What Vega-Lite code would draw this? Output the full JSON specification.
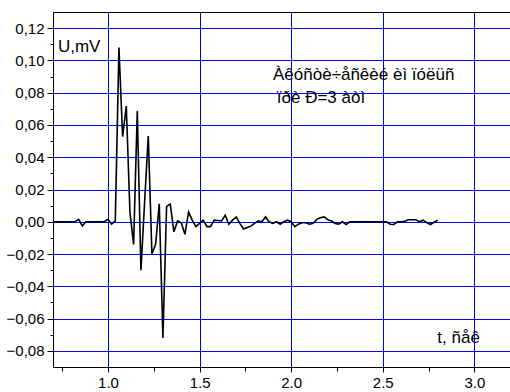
{
  "$schema": "https://vega.github.io/schema/vega-lite/v6.json",
  "width": 458,
  "height": 355,
  "autosize": {"type": "none"},
  "padding": {"left": 53, "top": 12, "right": 0, "bottom": 25},
  "background": "white",
  "config": {
    "view": {"stroke": "black", "strokeWidth": 1},
    "font": "Liberation Sans",
    "axis": {
      "domainColor": "black",
      "tickColor": "black",
      "labelColor": "black",
      "labelFont": "Liberation Sans",
      "title": null
    }
  },
  "datasets": {
    "signal": [
      {"t": 0.70, "u": 0}, {"t": 0.72, "u": 0}, {"t": 0.74, "u": 0}, {"t": 0.76, "u": 0},
      {"t": 0.78, "u": 0}, {"t": 0.80, "u": 0}, {"t": 0.82, "u": 0}, {"t": 0.84, "u": 0.0015},
      {"t": 0.86, "u": -0.0025}, {"t": 0.88, "u": 0}, {"t": 0.90, "u": 0}, {"t": 0.92, "u": 0},
      {"t": 0.94, "u": 0}, {"t": 0.96, "u": 0}, {"t": 0.98, "u": 0}, {"t": 1.00, "u": 0.0015},
      {"t": 1.02, "u": -0.0014}, {"t": 1.04, "u": 0.0006}, {"t": 1.06, "u": 0.108},
      {"t": 1.08, "u": 0.0527}, {"t": 1.10, "u": 0.0717}, {"t": 1.12, "u": 0.006},
      {"t": 1.14, "u": -0.014}, {"t": 1.16, "u": 0.0686}, {"t": 1.18, "u": -0.030},
      {"t": 1.20, "u": 0.012}, {"t": 1.22, "u": 0.0531}, {"t": 1.24, "u": -0.020},
      {"t": 1.26, "u": -0.014}, {"t": 1.28, "u": 0.0112}, {"t": 1.30, "u": -0.072},
      {"t": 1.32, "u": 0.0095}, {"t": 1.34, "u": 0.011}, {"t": 1.36, "u": -0.0062},
      {"t": 1.38, "u": 0.0005}, {"t": 1.40, "u": -0.0006}, {"t": 1.42, "u": -0.0078},
      {"t": 1.44, "u": 0.006}, {"t": 1.46, "u": 0.001}, {"t": 1.48, "u": -0.003},
      {"t": 1.50, "u": -0.001}, {"t": 1.52, "u": 0.001}, {"t": 1.54, "u": -0.003},
      {"t": 1.56, "u": -0.003}, {"t": 1.58, "u": 0.001}, {"t": 1.60, "u": 0.0008},
      {"t": 1.62, "u": 0.0005}, {"t": 1.64, "u": 0.004}, {"t": 1.66, "u": -0.0015},
      {"t": 1.68, "u": 0.001}, {"t": 1.70, "u": 0.003}, {"t": 1.72, "u": -0.001},
      {"t": 1.74, "u": -0.0045}, {"t": 1.76, "u": -0.0035}, {"t": 1.78, "u": -0.0027},
      {"t": 1.80, "u": -0.001}, {"t": 1.82, "u": 0.0006}, {"t": 1.84, "u": 0},
      {"t": 1.86, "u": 0.003}, {"t": 1.88, "u": 0}, {"t": 1.90, "u": -0.001},
      {"t": 1.92, "u": 0}, {"t": 1.94, "u": -0.0015}, {"t": 1.96, "u": 0},
      {"t": 1.98, "u": 0.001}, {"t": 2.00, "u": 0}, {"t": 2.02, "u": -0.003},
      {"t": 2.04, "u": -0.0015}, {"t": 2.06, "u": -0.0006}, {"t": 2.08, "u": -0.0006},
      {"t": 2.10, "u": -0.0015}, {"t": 2.12, "u": -0.001}, {"t": 2.14, "u": 0.0015},
      {"t": 2.16, "u": 0.0025}, {"t": 2.18, "u": 0.003}, {"t": 2.20, "u": 0.0013},
      {"t": 2.22, "u": 0.0005}, {"t": 2.24, "u": -0.001}, {"t": 2.26, "u": -0.0015},
      {"t": 2.28, "u": 0}, {"t": 2.30, "u": -0.0017}, {"t": 2.32, "u": 0},
      {"t": 2.34, "u": 0}, {"t": 2.36, "u": 0}, {"t": 2.38, "u": 0}, {"t": 2.40, "u": 0},
      {"t": 2.42, "u": 0}, {"t": 2.44, "u": 0}, {"t": 2.46, "u": 0}, {"t": 2.48, "u": 0},
      {"t": 2.50, "u": 0}, {"t": 2.52, "u": 0}, {"t": 2.54, "u": -0.0015},
      {"t": 2.56, "u": -0.0017}, {"t": 2.58, "u": 0}, {"t": 2.60, "u": 0},
      {"t": 2.62, "u": 0.0003}, {"t": 2.64, "u": 0.0013}, {"t": 2.66, "u": 0.0013},
      {"t": 2.68, "u": 0.0013}, {"t": 2.70, "u": 0}, {"t": 2.72, "u": 0.001},
      {"t": 2.74, "u": -0.0005}, {"t": 2.76, "u": -0.0017}, {"t": 2.78, "u": -0.0003},
      {"t": 2.80, "u": 0.001}
    ],
    "labels": [
      {"x": 0.727, "y": 0.1055, "label": "U,mV"},
      {"x": 1.901, "y": 0.0878, "label": "Àêóñòè÷åñêèé èì ïóëüñ"},
      {"x": 1.9215, "y": 0.0734, "label": "ïðè Ð=3 àòì"},
      {"x": 2.798, "y": -0.0752, "label": "t, ñåê"}
    ]
  },
  "layer": [
    {
      "data": {"name": "signal"},
      "mark": {"type": "line", "color": "black", "strokeWidth": 1.6, "clip": true},
      "encoding": {
        "x": {
          "field": "t", "type": "quantitative",
          "scale": {"domain": [0.7, 3.2], "nice": false, "zero": false},
          "axis": {
            "orient": "bottom",
            "values": [1.0, 1.5, 2.0, 2.5, 3.0],
            "format": ".1f",
            "grid": true, "gridColor": "#0000ff", "gridWidth": 1, "gridOpacity": 1,
            "tickSize": 5, "labelFontSize": 15, "labelPadding": 3,
            "labelFlush": false
          }
        },
        "y": {
          "field": "u", "type": "quantitative",
          "scale": {"domain": [-0.09, 0.13], "nice": false, "zero": false},
          "axis": {
            "orient": "left",
            "values": [-0.08, -0.06, -0.04, -0.02, 0, 0.02, 0.04, 0.06, 0.08, 0.10, 0.12],
            "labelExpr": "replace(format(datum.value, '.2f'), '.', ',')",
            "grid": true, "gridColor": "#0000ff", "gridWidth": 1, "gridOpacity": 1,
            "tickSize": 6, "labelFontSize": 15, "labelPadding": 3,
            "labelFlush": false
          }
        }
      }
    },
    {
      "data": {"name": "signal"},
      "mark": {"type": "line", "opacity": 0},
      "encoding": {
        "x": {
          "field": "t", "type": "quantitative",
          "axis": {
            "orient": "bottom",
            "values": [0.75, 1.25, 1.75, 2.25, 2.75],
            "labels": false, "grid": false, "domain": false, "tickSize": 4
          }
        },
        "y": {
          "field": "u", "type": "quantitative",
          "axis": {
            "orient": "left",
            "values": [-0.07, -0.05, -0.03, -0.01, 0.01, 0.03, 0.05, 0.07, 0.09, 0.11],
            "labels": false, "grid": false, "domain": false, "tickSize": 3
          }
        }
      }
    },
    {
      "data": {"name": "labels"},
      "mark": {"type": "text", "align": "left", "baseline": "alphabetic", "fontSize": 17, "font": "Liberation Sans", "color": "black"},
      "encoding": {
        "x": {"field": "x", "type": "quantitative", "axis": null},
        "y": {"field": "y", "type": "quantitative", "axis": null},
        "text": {"field": "label"}
      }
    }
  ],
  "resolve": {"axis": {"x": "independent", "y": "independent"}}
}
